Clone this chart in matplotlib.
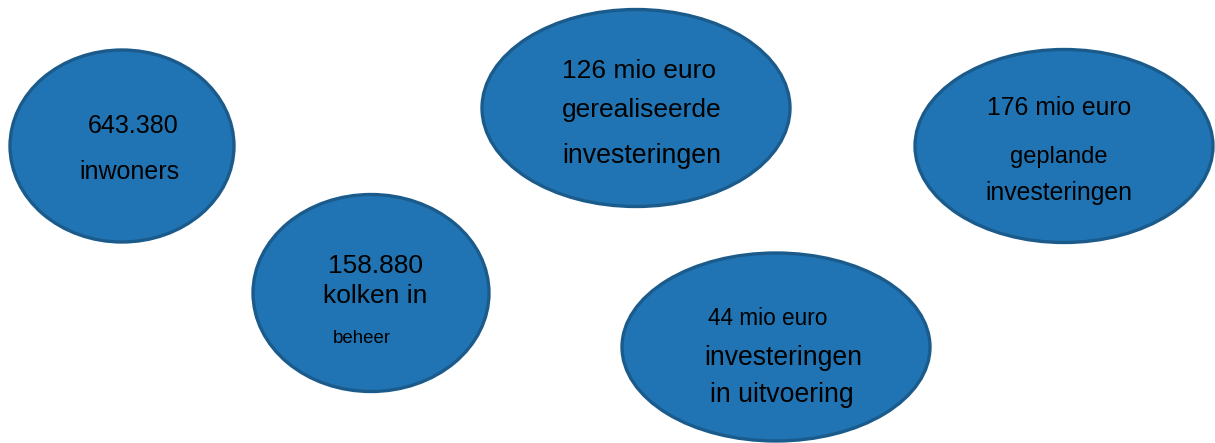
import matplotlib.pyplot as plt
from matplotlib.patches import Ellipse

# text shown in each bubble, one entry per line
labels = [
    ["643.380", "inwoners"],
    ["158.880", "kolken in", "beheer"],
    ["126 mio euro", "gerealiseerde", "investeringen"],
    ["44 mio euro", "investeringen", "in uitvoering"],
    ["176 mio euro", "geplande", "investeringen"],
]

# layout (pixel coordinates of the 1215x443 canvas)
centers = [(122, 146), (371, 293), (636, 108), (776, 347), (1064, 146)]
widths = [224, 236, 308, 308, 298]
heights = [192, 197, 197, 188, 193]
line_x = [[88, 79], [328, 323, 333], [562, 562, 562], [708, 704, 710], [987, 1010, 985]]
line_y = [[133, 179], [273, 303, 343], [78, 117, 163], [325, 365, 402], [115, 163, 200]]
line_size = [[18, 18], [19, 19, 13.4], [19, 19, 19.3], [16.3, 19.1, 19.2], [17.8, 17, 17.8]]

fill_color = '#2174b3'
edge_color = '#1b5b8c'

fig = plt.figure(figsize=(12.15, 4.43), dpi=100)
ax = fig.add_axes([0, 0, 1, 1])
ax.set_xlim(0, 1215)
ax.set_ylim(443, 0)
ax.axis('off')

for i in range(len(labels)):
    ax.add_patch(Ellipse(centers[i], widths[i], heights[i],
                         facecolor=fill_color, edgecolor=edge_color, linewidth=2.4))
    for j, line in enumerate(labels[i]):
        ax.text(line_x[i][j], line_y[i][j], line, ha='left', va='baseline',
                fontsize=line_size[i][j], family='Liberation Sans', color='black')

fig.savefig('out.png', dpi=100)
